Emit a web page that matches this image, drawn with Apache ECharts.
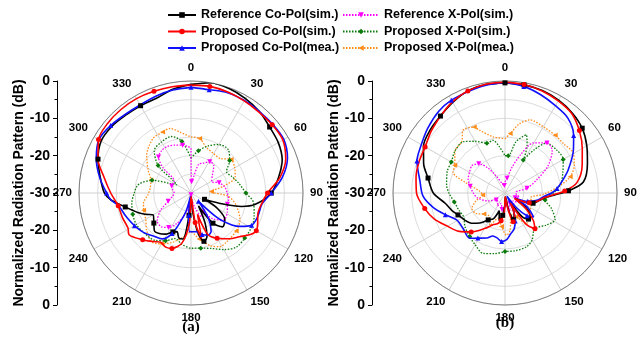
<!DOCTYPE html>
<html>
<head>
<meta charset="utf-8">
<script src="https://cdn.jsdelivr.net/npm/echarts@6/dist/echarts.min.js"></script>
<style>
html, body { margin: 0; padding: 0; background: #fff; }
#chart { width: 642px; height: 350px; }
</style>
</head>
<body>
<div id="chart"></div>
<script>
// [angle (deg), level (dB)]
// ---- panel (a) ----
var aRefCo = [[0,-0.9],[10,0],[20,-0.2],[30,-0.8],[40,-1.5],[50,-2.5],[60,-3],[70,-4],[80,-6.2],[90,-8.5],[100,-12.5],[105,-16],[110,-22],[115,-26],[120,-22],[128,-18.5],[137,-17.6],[144,-20],[150,-26],[155,-21],[160,-17.5],[165,-16.6],[170,-19],[175,-25],[180,-29],[185,-24],[190,-17.5],[195,-17.5],[200,-19],[205,-18.5],[212,-17],[218,-16.2],[224,-15.9],[231,-17.2],[240,-18.3],[245,-16.5],[250,-14.8],[258,-12],[265,-8.5],[270,-6.8],[280,-5.3],[290,-3.5],[300,-2.2],[310,-2.3],[320,-2.8],[330,-3],[340,-3],[350,-1.8],[360,-0.9]];
var aProCoSim = [[0,-1.1],[10,-1],[20,-1.2],[30,-1.5],[40,-1.7],[50,-1.6],[60,-1.6],[70,-3],[80,-5.8],[90,-9.5],[100,-11],[108,-11.2],[115,-10.3],[120,-9.8],[125,-10.6],[132,-12.5],[140,-14],[150,-16],[158,-18],[163,-24],[167,-17.5],[172,-22],[178,-29],[183,-22],[190,-16.5],[199,-14.3],[205,-14],[212,-14.5],[218,-13.5],[226,-12],[236,-10],[241,-10.7],[250,-10.5],[260,-10.2],[270,-8.5],[280,-6.4],[290,-3.5],[300,-1.4],[310,-0.9],[320,-0.8],[330,-0.8],[340,-1],[350,-1.1],[360,-1.1]];
var aProCoMea = [[0,-1.7],[10,-1.9],[20,-1.4],[30,-1.4],[40,-1.5],[50,-1.4],[60,-1.3],[70,-2.5],[80,-5.1],[90,-8.5],[99,-10.8],[105,-11],[111,-11.1],[118,-11.6],[124,-14],[128,-16.1],[133,-20],[138,-27],[145,-22],[152,-18.5],[158,-17.8],[165,-18.5],[172,-19.5],[178,-19.6],[182,-19.6],[186,-24],[190,-29],[195,-25],[200,-22],[205,-18],[212,-15.5],[220,-14.8],[230,-13.5],[240,-12.5],[250,-11.5],[260,-10.3],[265,-8.5],[270,-7.4],[280,-5.1],[290,-3],[300,-1.5],[310,-1.9],[324,-2.7],[340,-2.4],[350,-2],[360,-1.7]];
var aRefX = [[0,-18],[3,-27],[8,-26],[15,-22],[22,-21.4],[31,-20.2],[40,-20.5],[50,-22.5],[61,-23.7],[70,-22],[80,-20.8],[90,-20.3],[100,-19.8],[107,-19.8],[118,-19],[130,-18.7],[140,-21],[148,-24],[156,-23],[165,-26],[172,-28],[180,-29.5],[188,-27],[196,-24],[205,-21],[213,-19],[221,-18],[230,-18.2],[240,-20.5],[250,-23.5],[260,-25],[270,-25.5],[280,-25],[290,-24.5],[300,-24.5],[305,-24.5],[312,-20],[318,-17],[325,-16.2],[333,-16],[342,-16.5],[350,-17],[356,-17.5],[360,-18]];
var aProXSim = [[0,-20.7],[10,-18.5],[20,-16.6],[30,-15],[41,-14.7],[50,-16.5],[59,-18.9],[68,-18.2],[78,-17],[90,-15.3],[99,-13],[110,-12],[119,-11.4],[130,-11.2],[140,-11.1],[150,-12.5],[160,-14.2],[170,-15],[179,-15.2],[190,-16],[199,-17.1],[208,-15.5],[217,-14.1],[230,-13.5],[240,-13.1],[250,-13.4],[260,-13.9],[270,-14.8],[279,-15.7],[288,-19],[295,-24],[300,-25.6],[305,-24],[310,-18.5],[319,-15],[330,-14.2],[341,-14],[350,-16],[360,-20.7]];
var aProXMea = [[0,-15],[9,-15.2],[18,-17],[29,-17.8],[40,-17.9],[50,-16],[60,-16.5],[70,-17.4],[78,-21],[86,-24.5],[95,-20],[105,-17.5],[119,-15],[130,-14.2],[144,-13.8],[152,-13.7],[160,-15],[170,-17.5],[180,-19.5],[190,-18],[200,-16],[210,-14.3],[219,-13.2],[230,-14.5],[240,-16],[250,-16.5],[258,-17],[268,-18.5],[278,-19],[288,-18.7],[298,-17],[310,-14.5],[325,-12.2],[335,-12],[342,-11.8],[350,-13.5],[360,-15]];

// ---- panel (b) ----
var bRefCo = [[0,-0.5],[10,-0.6],[20,-0.8],[30,-1.3],[40,-2],[50,-3],[60,-4.7],[70,-6.5],[82,-8.8],[88,-13],[92,-16.5],[96,-19],[102,-20.5],[110,-22],[118,-26],[125,-23],[132,-21],[138,-20.6],[144,-22],[150,-27],[156,-24],[162,-22.5],[168,-25],[174,-29],[180,-27],[186,-24],[192,-22.5],[198,-25],[204,-22.5],[212,-21.5],[220,-19.5],[228,-17.9],[236,-17],[245,-16.1],[252,-15],[260,-13.8],[270,-10.8],[281,-9],[290,-6.8],[300,-4.8],[310,-3.8],[320,-3.1],[330,-2],[340,-0.9],[350,-0.5],[360,-0.5]];
var bProCoSim = [[0,-0.3],[10,-0.5],[20,-0.9],[30,-1.5],[40,-2.2],[50,-4],[60,-6.1],[70,-8],[82,-10.6],[88,-14],[92,-17],[97,-19.5],[104,-21],[112,-23],[120,-27],[127,-23],[134,-19.5],[140,-17.5],[146,-20],[152,-27],[158,-23],[164,-22],[170,-26],[176,-29],[182,-25],[188,-22.5],[194,-21.5],[200,-21],[210,-19],[221,-16.2],[230,-14],[241,-12],[250,-9.8],[259,-8.1],[270,-6.3],[280,-5.8],[290,-5.5],[300,-5.3],[310,-4.2],[321,-3],[330,-1.8],[340,-0.9],[350,-0.4],[360,-0.3]];
var bProCoMea = [[0,-0.4],[10,-1],[20,-2],[30,-3],[40,-3.8],[50,-6],[58,-8.4],[70,-12],[78,-14.3],[85,-16],[90,-17.5],[95,-19.5],[102,-21],[110,-23.5],[116,-27],[122,-23],[130,-20],[136,-21.5],[142,-25],[148,-29],[154,-25],[160,-22],[166,-20],[172,-19],[178,-17.5],[184,-17],[190,-17.8],[196,-18],[202,-17],[211,-15.9],[218,-14.6],[230,-15.3],[241,-15.2],[250,-13],[259,-10.3],[268,-8],[278,-7],[290,-4.9],[299,-4.2],[310,-3],[321,-1.8],[330,-1.3],[340,-1.1],[350,-0.7],[360,-0.4]];
var bRefX = [[0,-27],[8,-26],[15,-23],[22,-19],[30,-14.5],[40,-12.5],[48,-13],[58,-16.5],[68,-21],[78,-24],[85,-27],[95,-27],[105,-26],[115,-27],[125,-25.5],[135,-27],[145,-25.5],[155,-27],[165,-25],[172,-27],[180,-26],[190,-25.5],[200,-27],[210,-26],[220,-27],[232,-27],[245,-25],[260,-22.5],[270,-21.5],[281,-20.5],[290,-19.5],[300,-19],[310,-18.5],[318,-19.5],[326,-22],[333,-25],[345,-27.5],[355,-28],[360,-27]];
var bProXSim = [[0,-20],[5,-20],[12,-16],[20,-13.4],[25,-16],[29,-19.9],[34,-16],[40,-12.6],[50,-12],[60,-12],[70,-13.5],[80,-14.8],[90,-17],[100,-19.1],[108,-17],[118,-14.8],[128,-16],[140,-17.6],[150,-15.5],[158,-14.5],[170,-14.3],[180,-14.3],[190,-13.5],[200,-12.8],[210,-14],[219,-15],[230,-16],[240,-17.2],[250,-16.8],[260,-16.2],[270,-15],[278,-14.2],[290,-13.5],[300,-13.4],[310,-12.5],[321,-12.3],[330,-14],[340,-15.8],[347,-15.5],[353,-17.5],[360,-20]];
var bProXMea = [[0,-15.5],[5,-14],[12,-11],[19,-9.3],[30,-9.5],[41,-9.5],[50,-9.5],[60,-8.8],[68,-10],[76,-12],[84,-16],[92,-19.7],[100,-23],[110,-22.5],[124,-21.9],[135,-21],[145,-20],[155,-23],[165,-24],[172,-20],[178,-18.7],[186,-21],[195,-23],[205,-20.5],[215,-22.5],[225,-22],[235,-20.5],[245,-20.2],[255,-22],[265,-24],[275,-23],[285,-19],[292,-15],[299,-14.6],[310,-12.5],[320,-12],[326,-9.8],[335,-10.5],[338,-11.9],[348,-14.6],[360,-15.5]];

var angleTicks = [0, 30, 60, 90, 120, 150, 180, 210, 240, 270, 300, 330];

var FONT = '"Liberation Sans", Arial, sans-serif';

var styles = [
    { name: 'Reference Co-Pol(sim.)', color: '#000000', symbol: 'rect', rotate: 0, dot: false },
    { name: 'Proposed Co-Pol(sim.)', color: '#ff0000', symbol: 'circle', rotate: 0, dot: false },
    { name: 'Proposed Co-Pol(mea.)', color: '#1010ff', symbol: 'triangle', rotate: 0, dot: false },
    { name: 'Reference X-Pol(sim.)', color: '#ff00ff', symbol: 'triangle', rotate: 180, dot: true },
    { name: 'Proposed X-Pol(sim.)', color: '#0a7a0a', symbol: 'diamond', rotate: 0, dot: true },
    { name: 'Proposed X-Pol(mea.)', color: '#ff8c1a', symbol: 'triangle', rotate: 90, dot: true }
];

function mkSeries(data, idx, pi) {
    var s = styles[idx];
    return {
        name: s.name,
        type: 'line',
        coordinateSystem: 'polar',
        polarIndex: pi,
        data: data.map(function (p) { return [p[1], p[0]]; }),
        smooth: 0.3,
        symbol: s.symbol,
        symbolRotate: s.rotate,
        symbolSize: function (v, params) {
            return params.dataIndex % 4 === 1 ? 5 : 0;
        },
        lineStyle: { color: s.color, width: s.dot ? 1.3 : 1.6, type: s.dot ? [1.5, 1.5] : 'solid' },
        itemStyle: { color: s.color },
        z: s.dot ? 2 : 3,
        animation: false
    };
}

function angleAxis(pi) {
    return {
        polarIndex: pi,
        type: 'value',
        min: 0, max: 360, interval: 30,
        startAngle: 90, clockwise: true,
        axisLine: { lineStyle: { color: '#808080', width: 1 } },
        axisTick: { show: false },
        splitLine: { lineStyle: { color: '#d0d0d0', width: 1 } },
        axisLabel: {
            margin: 7,
            color: '#000',
            fontWeight: 'bold',
            fontSize: 11.5,
            fontFamily: FONT,
            formatter: function (v) { return angleTicks.indexOf(v) >= 0 ? String(v) : ''; }
        }
    };
}

function radiusAxis(pi) {
    return {
        polarIndex: pi,
        type: 'value',
        min: -30, max: 0, interval: 5,
        axisLine: { show: false },
        axisTick: { show: false },
        axisLabel: { show: false },
        splitLine: { lineStyle: { color: '#dcdcdc', width: 1 } }
    };
}

function yAxis(gi) {
    return {
        gridIndex: gi,
        type: 'value',
        min: -30, max: 30, interval: 10,
        name: 'Normalized Radiation Pattern (dB)',
        nameLocation: 'middle',
        nameGap: 30,
        nameRotate: 90,
        nameTextStyle: { color: '#000', fontWeight: 'bold', fontSize: 14, fontFamily: FONT },
        axisLine: { show: true, lineStyle: { color: '#000', width: 1 } },
        axisTick: { show: true, length: 4, lineStyle: { color: '#000' } },
        minorTick: { show: true, splitNumber: 2, length: 2.5, lineStyle: { color: '#000' } },
        splitLine: { show: false },
        axisLabel: {
            margin: 7,
            color: '#000',
            fontWeight: 'bold',
            fontSize: 14,
            fontFamily: FONT,
            formatter: function (v) { return String(Math.abs(v) - 30); }
        }
    };
}

var chart = echarts.init(document.getElementById('chart'), null, { renderer: 'canvas' });

var series = [
    mkSeries(aProXMea, 5, 0), mkSeries(aProXSim, 4, 0), mkSeries(aRefX, 3, 0),
    mkSeries(aRefCo, 0, 0), mkSeries(aProCoMea, 2, 0), mkSeries(aProCoSim, 1, 0),
    mkSeries(bProXMea, 5, 1), mkSeries(bProXSim, 4, 1), mkSeries(bRefX, 3, 1),
    mkSeries(bRefCo, 0, 1), mkSeries(bProCoMea, 2, 1), mkSeries(bProCoSim, 1, 1)
];

var legendText = { color: '#000', fontWeight: 'bold', fontSize: 12.5, fontFamily: FONT, lineHeight: 16 };

chart.setOption({
    backgroundColor: '#fff',
    animation: false,
    legend: [{
        left: 162, top: 2, orient: 'vertical',
        itemWidth: 28, itemHeight: 7, itemGap: 0.5,
        textStyle: legendText,
        data: [styles[0].name, styles[1].name, styles[2].name]
    }, {
        left: 337, top: 2, orient: 'vertical',
        itemWidth: 36, itemHeight: 7, itemGap: 0.5,
        textStyle: legendText,
        data: [styles[3].name, styles[4].name, styles[5].name]
    }],
    polar: [
        { center: [191, 193], radius: 112 },
        { center: [505, 193], radius: 112 }
    ],
    angleAxis: [angleAxis(0), angleAxis(1)],
    radiusAxis: [radiusAxis(0), radiusAxis(1)],
    grid: [
        { left: 57, top: 81, width: 1, height: 224 },
        { left: 372, top: 81, width: 1, height: 224 }
    ],
    xAxis: [
        { gridIndex: 0, type: 'value', show: false },
        { gridIndex: 1, type: 'value', show: false }
    ],
    yAxis: [yAxis(0), yAxis(1)],
    graphic: [
        { type: 'text', style: { text: '(a)', x: 191, y: 327, textAlign: 'center', textVerticalAlign: 'middle', fill: '#000', font: 'bold 15px "Liberation Serif", serif' } },
        { type: 'text', style: { text: '(b)', x: 505, y: 323, textAlign: 'center', textVerticalAlign: 'middle', fill: '#000', font: 'bold 15px "Liberation Serif", serif' } }
    ],
    series: series
});
</script>
</body>
</html>
